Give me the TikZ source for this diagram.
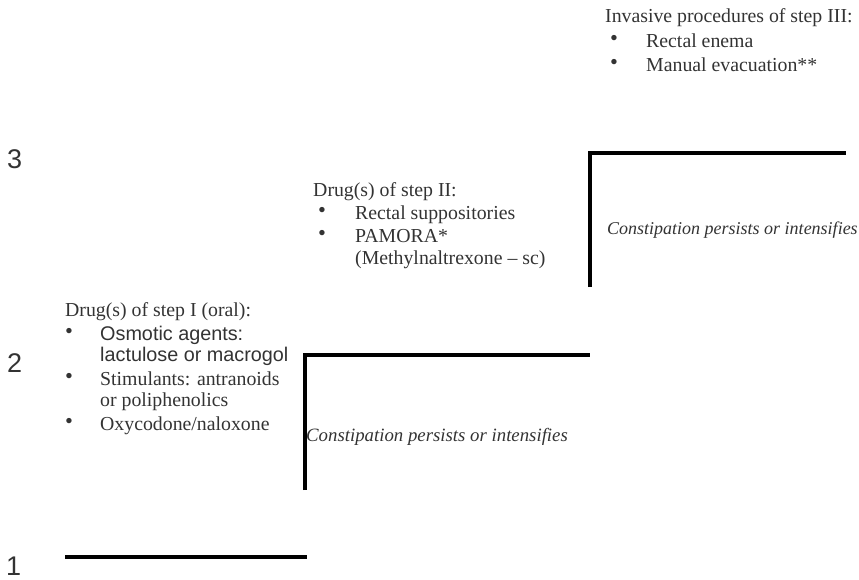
\documentclass[tikz,border=0pt]{standalone}
\usepackage{fontspec}
\setmainfont{Liberation Serif}
\newfontfamily\sansf{Liberation Sans}
\definecolor{txt}{HTML}{333333}
\begin{document}
\begin{tikzpicture}[x=1pt,y=-1pt,
  stepline/.style={line width=3.6pt, black, line join=miter},
  lbl/.style={anchor=base west, inner sep=0pt, text=txt, font=\fontsize{19.8}{23}\selectfont},
  slbl/.style={anchor=base west, inner sep=0pt, text=txt, font=\sansf\fontsize{19.8}{23}\selectfont},
  ilbl/.style={anchor=base west, inner sep=0pt, text=txt, font=\itshape\fontsize{18}{21}\selectfont},
  num/.style={anchor=base west, inner sep=0pt, text=txt, font=\sansf\fontsize{27}{30}\selectfont},
  bul/.style={anchor=center, inner sep=0pt, text=txt, font=\fontsize{22.5}{24}\selectfont}]
\useasboundingbox (0,0) rectangle (859,579);

% step lines
\coordinate (s1a) at (65,557);
\coordinate (s1b) at (307,557);
\coordinate (s2a) at (305,490);
\coordinate (s2b) at (305,355);
\coordinate (s2c) at (590,355);
\coordinate (s3a) at (590,287);
\coordinate (s3b) at (590,153);
\coordinate (s3c) at (846,153);
\draw[stepline] (s1a) -- (s1b);
\draw[stepline] (s2a) -- (s2b) -- (s2c);
\draw[stepline] (s3a) -- (s3b) -- (s3c);

% level numbers
\node[num] (n1) at (6,575) {1};
\node[num] (n2) at (7,372) {2};
\node[num] (n3) at (7,168) {3};

% step I
\node[lbl] (h1) at (65,316) {Drug(s) of step I (oral):};
\node[bul] (b11) at (69,333.5) {\textbullet};
\node[slbl] (t11) at (100,340) {Osmotic agents:};
\node[slbl] (t12) at (100,361) {lactulose or macrogol};
\node[bul] (b12) at (69,378.5) {\textbullet};
\node[lbl] (t13) at (100,385) {Stimulants: antranoids};
\node[lbl] (t14) at (100,406) {or poliphenolics};
\node[bul] (b13) at (69,423.5) {\textbullet};
\node[lbl] (t15) at (100,430) {Oxycodone/naloxone};
\node[ilbl,font=\itshape\fontsize{18.8}{21}\selectfont] (c1) at (306,441) {Constipation persists or intensifies};

% step II
\node[lbl] (h2) at (313,196) {Drug(s) of step II:};
\node[bul] (b21) at (322,212.5) {\textbullet};
\node[lbl] (t21) at (355,219) {Rectal suppositories};
\node[bul] (b22) at (322,235.5) {\textbullet};
\node[lbl] (t22) at (355,242) {PAMORA*};
\node[lbl] (t23) at (355,264) {(Methylnaltrexone -- sc)};
\node[ilbl] (c2) at (607,234) {Constipation persists or intensifies};

% step III
\node[lbl] (h3) at (605,22) {Invasive procedures of step III:};
\node[bul] (b31) at (614,40.5) {\textbullet};
\node[lbl] (t31) at (646,47) {Rectal enema};
\node[bul] (b32) at (614,64.5) {\textbullet};
\node[lbl] (t32) at (646,71) {Manual evacuation**};
\end{tikzpicture}
\end{document}
